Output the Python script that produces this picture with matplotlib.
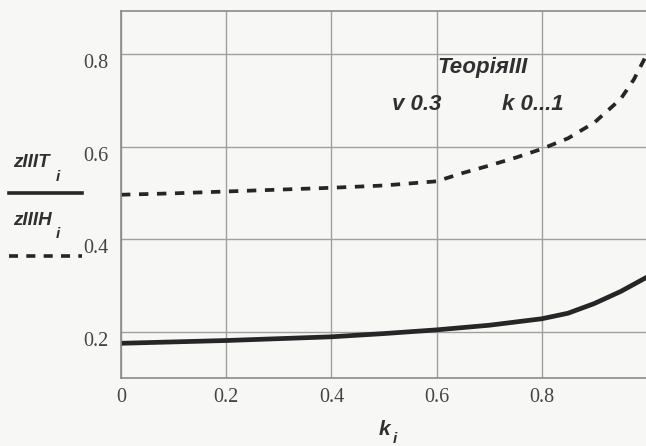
import matplotlib
matplotlib.use('Agg')
import matplotlib.pyplot as plt
from matplotlib.lines import Line2D

# values
k_solid = [0, 0.1, 0.2, 0.3, 0.4, 0.5, 0.6, 0.7, 0.8, 0.85, 0.9, 0.95, 1.0]
z_T = [0.175, 0.178, 0.181, 0.185, 0.189, 0.196, 0.204, 0.214, 0.228, 0.240, 0.261, 0.287, 0.318]

k_dash = [0, 0.1, 0.2, 0.3, 0.4, 0.5, 0.6, 0.65, 0.7, 0.75, 0.8, 0.85, 0.9, 0.95, 0.975, 1.0]
z_H = [0.496, 0.499, 0.503, 0.507, 0.511, 0.516, 0.525, 0.543, 0.559, 0.576, 0.595,
       0.618, 0.652, 0.703, 0.745, 0.80]

xticks = [0, 0.2, 0.4, 0.6, 0.8]
xticklabels = ['0', '0.2', '0.4', '0.6', '0.8']
yticks = [0.2, 0.4, 0.6, 0.8]
yticklabels = ['0.2', '0.4', '0.6', '0.8']

W, H = 646, 446
fig = plt.figure(figsize=(W / 100, H / 100), dpi=100, facecolor='#f7f7f5')
ax = fig.add_axes([121 / W, 1 - 378 / H, 526 / W, 367 / H])
ax.set_facecolor('#f7f7f5')

ink = '#262626'
ax.plot(k_solid, z_T, color=ink, lw=3.4, solid_capstyle='butt')
ax.plot(k_dash, z_H, color=ink, lw=2.7, dashes=(2.5, 2.3))

ax.set_xlim(0, 1)
ax.set_ylim(0.1, 0.893)
ax.set_xticks(xticks)
ax.set_xticklabels(xticklabels)
ax.set_yticks(yticks)
ax.set_yticklabels(yticklabels)
ax.grid(True, color='#a0a0a0', lw=1.0)
ax.tick_params(length=0, labelsize=14.5, labelcolor='#444444', pad=7)
ax.tick_params(axis='y', pad=9)
for lab in ax.get_xticklabels() + ax.get_yticklabels():
    lab.set_family('Liberation Serif')
for lab in ax.get_yticklabels():
    lab.set_va('top')
for s in ax.spines.values():
    s.set_color('#8a8a8a')
    s.set_linewidth(1.2)

bi = dict(family='Liberation Sans', weight='bold', style='italic', color='#303030')

def px(x, y):
    return x / W, 1 - y / H

# annotations inside the plot
fig.text(*px(437, 73), 'ТеоріяIII', fontsize=16, **bi)
fig.text(*px(392, 110), 'v 0.3', fontsize=16, **bi)
fig.text(*px(502, 110), 'k 0...1', fontsize=16, **bi)

# axis labels drawn in Mathcad style
fig.text(*px(379, 435), 'k', fontsize=15, **bi)
fig.text(*px(393, 443), 'i', fontsize=11, **bi)

fig.text(*px(13, 167), 'zIIIT', fontsize=13.5, **bi)
fig.text(*px(56, 181), 'i', fontsize=11, **bi)
fig.add_artist(Line2D([9 / W, 82 / W], [1 - 193 / H] * 2, color=ink, lw=2.6,
                      transform=fig.transFigure))
fig.text(*px(13, 225), 'zIIIH', fontsize=13.5, **bi)
fig.text(*px(56, 238), 'i', fontsize=11, **bi)
fig.add_artist(Line2D([9 / W, 82 / W], [1 - 256 / H] * 2, color=ink, lw=2.6,
                      dashes=(2.5, 2.3), transform=fig.transFigure))

fig.savefig('out.png', dpi=100, facecolor=fig.get_facecolor())
